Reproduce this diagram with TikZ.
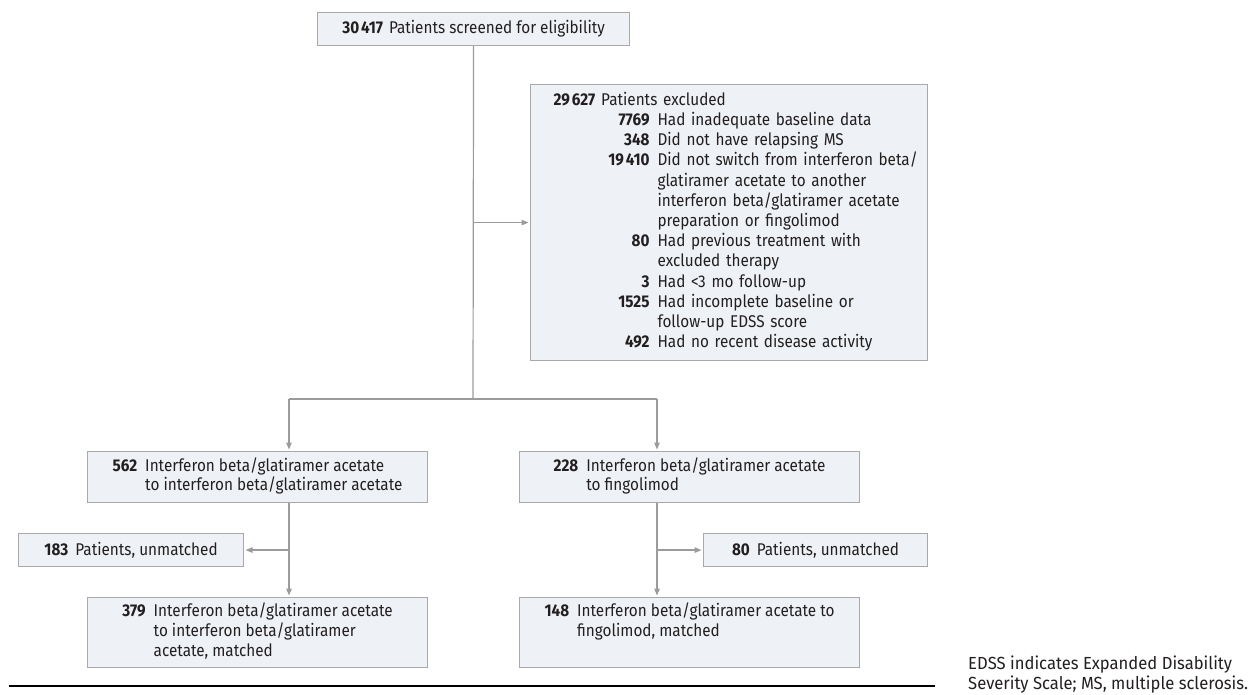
\documentclass[tikz,border=0pt]{standalone}
\usepackage{fontspec}
\setmainfont{Fira Sans}[FakeStretch=0.9]
\newfontfamily\capfont{Fira Sans}[FakeStretch=0.95]
\usetikzlibrary{arrows.meta}
\definecolor{boxfill}{HTML}{EEF1F5}
\definecolor{boxdraw}{HTML}{A9A9A9}
\definecolor{linec}{HTML}{9B9B9B}
\definecolor{txt}{HTML}{231F20}
\newcommand\bnum[1]{\textbf{#1}}
\newcommand\xn[1]{\makebox[96pt][r]{\textbf{#1}}}
\begin{document}
\begin{tikzpicture}[x=1pt,y=-1pt,
  box/.style={draw=boxdraw, fill=boxfill, line width=1.1pt, inner sep=0pt, anchor=north west, text=txt, font=\fontsize{17}{19.5}\selectfont},
  conn/.style={draw=linec, line width=1.2pt},
  arr/.style={conn, -{Triangle[length=7pt,width=5.5pt]}, shorten >=1.5pt},
]
\useasboundingbox (0,0) rectangle (1249,694);
% boxes
\node[box, minimum width=312pt, minimum height=33pt] (top) at (317,12)
  {\bnum{30\kern2pt417}\hspace{6pt}Patients screened for eligibility};
\node[box, minimum width=397pt, minimum height=276pt, inner xsep=23pt, text width=351pt, align=left,
      font=\fontsize{17}{20.2}\selectfont] (excl) at (530,84)
  {\begin{tabular}{@{}l@{\hspace{8pt}}l@{}}
   \multicolumn{2}{@{}l@{}}{\bnum{29\kern2pt627}\hspace{6pt}Patients excluded}\\
   \xn{7769} & Had inadequate baseline data\\
   \xn{348} & Did not have relapsing MS\\
   \xn{19\kern2pt410} & Did not switch from interferon beta/\\
   & glatiramer acetate to another\\
   & interferon beta/glatiramer acetate\\
   & preparation or fingolimod\\
   \xn{80} & Had previous treatment with\\
   & excluded therapy\\
   \xn{3} & Had <3 mo follow-up\\
   \xn{1525} & Had incomplete baseline or\\
   & follow-up EDSS score\\
   \xn{492} & Had no recent disease activity
  \end{tabular}};
\node[box, minimum width=340pt, minimum height=51pt] (b562) at (87,451)
  {\begin{tabular}{@{}r@{\hspace{8pt}}l@{}}
   \bnum{562} & Interferon beta/glatiramer acetate\\
   & to interferon beta/glatiramer acetate
  \end{tabular}};
\node[box, minimum width=340pt, minimum height=51pt] (b228) at (519,451)
  {\begin{tabular}{@{}r@{\hspace{8pt}}l@{}}
   \bnum{228} & Interferon beta/glatiramer acetate\\
   & to fingolimod
  \end{tabular}};
\node[box, minimum width=225pt, minimum height=33pt] (b183) at (18,533)
  {\bnum{183}\hspace{7pt}Patients, unmatched};
\node[box, minimum width=224pt, minimum height=33pt] (b80) at (703,533)
  {\bnum{80}\hspace{7pt}Patients, unmatched};
\node[box, minimum width=340pt, minimum height=70pt] (b379) at (87,597)
  {\begin{tabular}{@{}r@{\hspace{8pt}}l@{}}
   \bnum{379} & Interferon beta/glatiramer acetate\\
   & to interferon beta/glatiramer\\
   & acetate, matched
  \end{tabular}};
\node[box, minimum width=340pt, minimum height=70pt] (b148) at (519,597)
  {\begin{tabular}{@{}r@{\hspace{8pt}}l@{}}
   \bnum{148} & Interferon beta/glatiramer acetate to\\
   & fingolimod, matched\\
   &
  \end{tabular}};
% connectors
\coordinate (jm) at (473,399);
\coordinate (jl) at (289,399);
\coordinate (jr) at (657,399);
\draw[conn] (top.south) -- (jm);
\draw[conn] (jl) -- (jr);
\draw[arr] (top.south |- excl.west) -- (excl.west);
\draw[arr] (jl) -- (jl |- b562.north);
\draw[arr] (jr) -- (jr |- b228.north);
\draw[conn] (jl |- b562.south) -- (jl |- b183.east);
\draw[arr] (jl |- b183.east) -- (jl |- b379.north);
\draw[arr] (jl |- b183.east) -- (b183.east);
\draw[conn] (jr |- b228.south) -- (jr |- b80.west);
\draw[arr] (jr |- b80.west) -- (jr |- b148.north);
\draw[arr] (jr |- b80.west) -- (b80.west);
% rule and caption
\coordinate (r1) at (9,686);
\coordinate (r2) at (935,686);
\draw[line width=1.4pt, black] (r1) -- (r2);
\node[anchor=south west, inner sep=0pt, align=left, text=txt, font=\capfont\fontsize{17.5}{19.5}\selectfont] (cap) at (968,693)
  {EDSS indicates Expanded Disability\\Severity Scale; MS, multiple sclerosis.};
\end{tikzpicture}
\end{document}
